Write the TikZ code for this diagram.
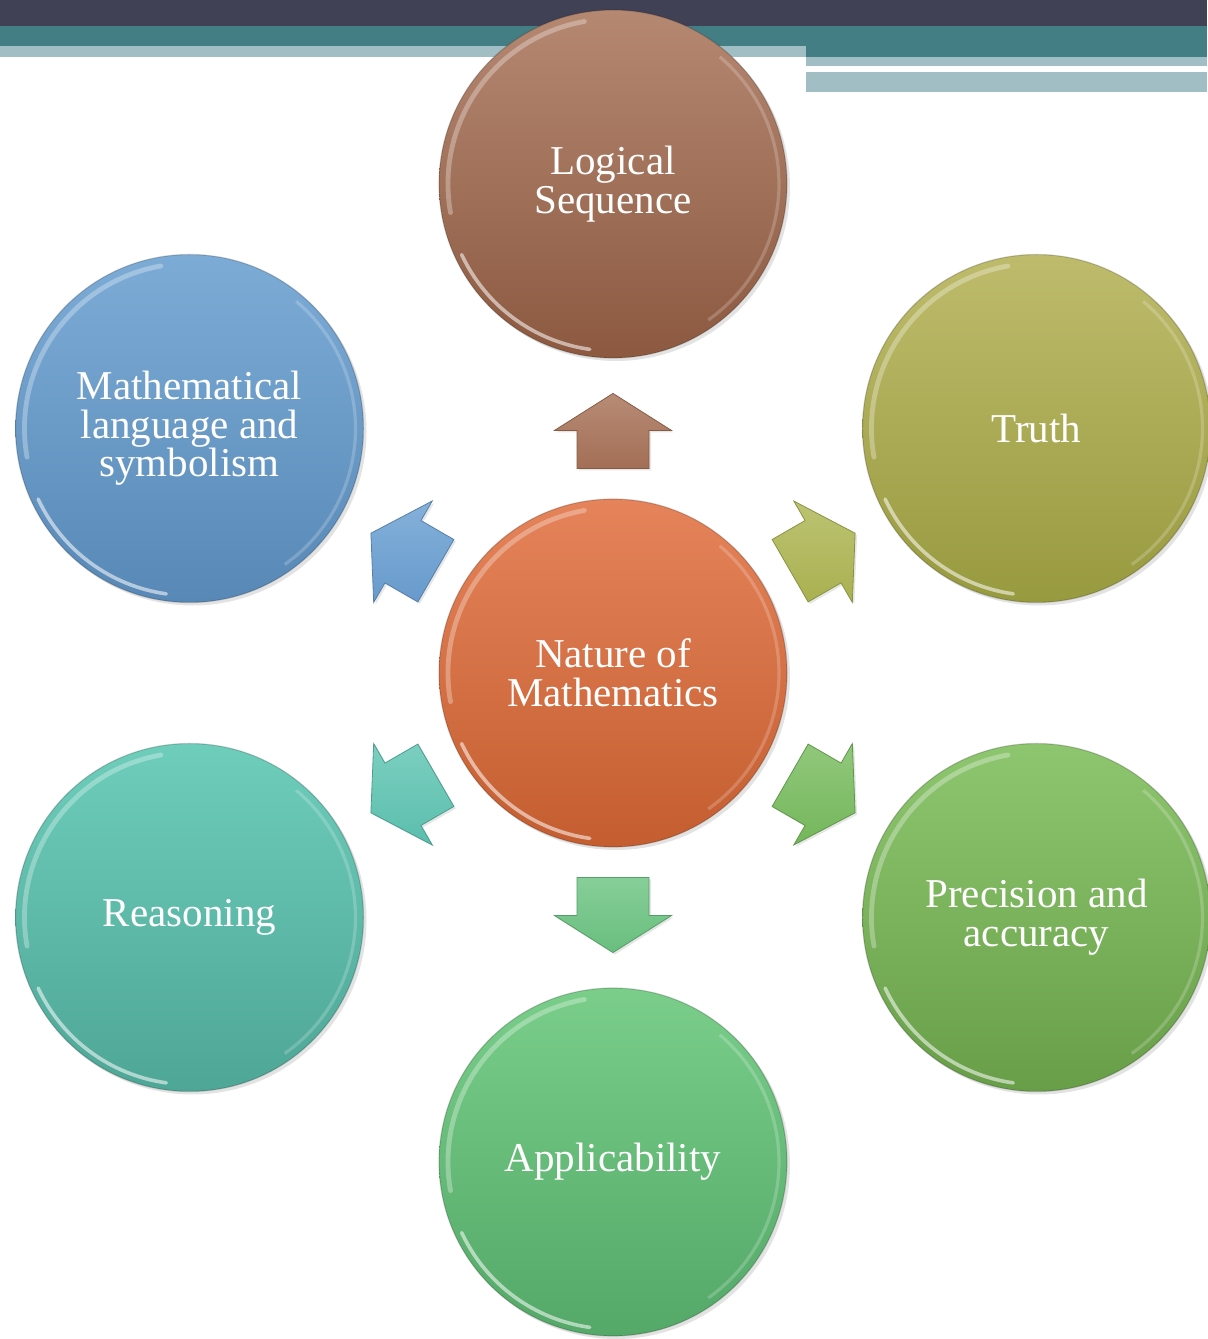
\documentclass[tikz,border=0pt]{standalone}
\usepackage{fontspec}
\setmainfont{Liberation Serif}
\usetikzlibrary{calc,shadows}
\definecolor{bandDark}{HTML}{414155}
\definecolor{bandTeal}{HTML}{437E84}
\definecolor{bandLight}{HTML}{A0BEC3}
\definecolor{arBrown}{HTML}{A87258}
\definecolor{arOlive}{HTML}{AEB653}
\definecolor{arBlue}{HTML}{6A9FD2}
\definecolor{arTeal}{HTML}{5EC4B2}
\definecolor{arGreen}{HTML}{78BC5E}
\definecolor{arMint}{HTML}{6CC482}
\definecolor{ctrT}{HTML}{E5835A}\definecolor{ctrB}{HTML}{C45E30}
\definecolor{logT}{RGB}{181,136,114}\definecolor{logB}{RGB}{140,89,64}
\definecolor{truT}{RGB}{190,188,108}\definecolor{truB}{RGB}{152,154,63}
\definecolor{matT}{RGB}{124,172,214}\definecolor{matB}{RGB}{88,136,182}
\definecolor{reaT}{RGB}{110,205,187}\definecolor{reaB}{RGB}{78,166,150}
\definecolor{preT}{RGB}{142,198,112}\definecolor{preB}{RGB}{104,158,72}
\definecolor{appT}{RGB}{122,206,138}\definecolor{appB}{RGB}{84,168,104}
\tikzset{
  bubble/.style={circle, minimum size=174pt, inner sep=0pt, text=white, align=center,
    font=\fontsize{20.5}{19.3}\selectfont, shading angle=35,
    drop shadow={shadow xshift=1.5pt, shadow yshift=-1.5pt, opacity=0.22}},
  pics/blockarrow/.style={code={
    \shade[top color=#1!82!white, bottom color=#1!97!black, draw=#1!80!black, line width=0.4pt,
      drop shadow={shadow xshift=1pt, shadow yshift=-1pt, opacity=0.2}]
      (-37.5,-36) -- (0.5,-36) -- (0.5,-58.5) -- (37.5,0) -- (0.5,58.5) -- (0.5,36) -- (-37.5,36) -- cycle;
  }},
  rimhi/.style={white, line width=2.4pt, opacity=0.3, line cap=round},
  rimlo/.style={white, line width=1.8pt, opacity=0.55, line cap=round}
}
\begin{document}
\begin{tikzpicture}[x=0.5pt,y=0.5pt]
\useasboundingbox (0,0) rectangle (1207,1339);
% header bands
\fill[bandDark] (0,1313) rectangle (1207,1339);
\fill[bandTeal] (0,1293) rectangle (806,1313);
\fill[bandTeal] (806,1282) rectangle (1207,1313);
\fill[bandLight] (0,1282) rectangle (806,1293);
\fill[bandLight] (806,1273) rectangle (1207,1282);
\fill[bandLight] (806,1247) rectangle (1207,1267);
% circles
\coordinate (o) at (613,666);
\node[bubble, top color=ctrT, bottom color=ctrB] (ctr) at (o) {Nature of\\Mathematics};
\node[bubble, top color=logT, bottom color=logB] (logic) at ($(o)+(90:489)$) {Logical\\Sequence};
\node[bubble, top color=truT, bottom color=truB] (truth) at ($(o)+(30:489)$) {Truth};
\node[bubble, top color=matT, bottom color=matB] (mathl) at ($(o)+(150:489)$) {Mathematical\\language and\\symbolism};
\node[bubble, top color=reaT, bottom color=reaB] (reas) at ($(o)+(210:489)$) {Reasoning};
\node[bubble, top color=preT, bottom color=preB] (prec) at ($(o)+(330:489)$) {Precision and\\accuracy};
\node[bubble, top color=appT, bottom color=appB] (appl) at ($(o)+(270:489)$) {Applicability};
% glossy rims
\foreach \n in {ctr,logic,truth,mathl,reas,prec,appl}{
  \draw[black, opacity=0.18, line width=0.6pt] (\n) circle (174);
  \draw[rimhi] ($(\n)+(100:165)$) arc (100:190:165);
  \draw[rimlo] ($(\n)+(205:167)$) arc (205:262:167);
  \draw[white, opacity=0.2, line width=1.6pt] ($(\n)+(-55:166)$) arc (-55:50:166);
}
% block arrows
\pic[rotate=90]  at ($(ctr)!0.495!(logic)$) {blockarrow=arBrown};
\pic[rotate=30]  at ($(ctr)!0.495!(truth)$) {blockarrow=arOlive};
\pic[rotate=150] at ($(ctr)!0.495!(mathl)$) {blockarrow=arBlue};
\pic[rotate=210] at ($(ctr)!0.495!(reas)$)  {blockarrow=arTeal};
\pic[rotate=330] at ($(ctr)!0.495!(prec)$)  {blockarrow=arGreen};
\pic[rotate=270] at ($(ctr)!0.495!(appl)$)  {blockarrow=arMint};
\end{tikzpicture}
\end{document}
